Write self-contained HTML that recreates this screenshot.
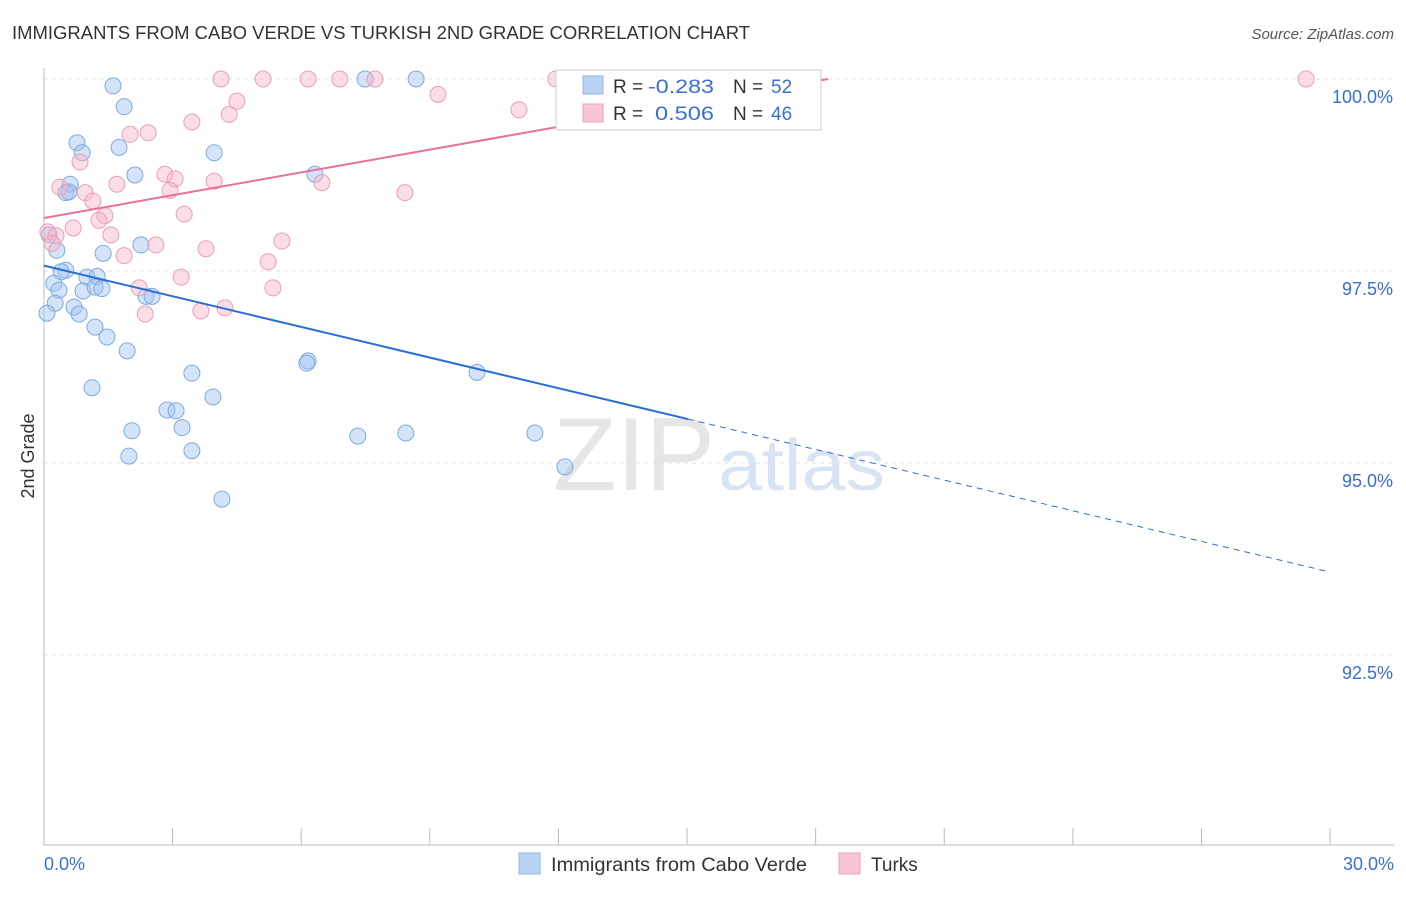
<!DOCTYPE html>
<html><head><meta charset="utf-8">
<style>
body{margin:0;background:#fff;font-family:"Liberation Sans",sans-serif;}
svg text{font-family:"Liberation Sans",sans-serif;}
</style></head>
<body>
<svg id="chart" width="1406" height="892">
<text x="12" y="39" font-size="18" fill="#333" textLength="738" lengthAdjust="spacingAndGlyphs">IMMIGRANTS FROM CABO VERDE VS TURKISH 2ND GRADE CORRELATION CHART</text>
<text x="1394" y="39" font-size="15" fill="#555" font-style="italic" text-anchor="end">Source: ZipAtlas.com</text>
<text x="553" y="490" font-size="104" fill="#e6e6e6" textLength="162" lengthAdjust="spacingAndGlyphs" font-family="Liberation Serif">ZIP</text>
<text x="718" y="490" font-size="72" fill="#d8e4f4" textLength="167" lengthAdjust="spacingAndGlyphs">atlas</text>
<text transform="translate(34,456) rotate(-90)" font-size="18" fill="#333" text-anchor="middle">2nd Grade</text>
<g id="grid"></g><g id="marks"></g>
<g>
<rect x="556" y="70" width="265" height="60" fill="#fff" stroke="#ccc"/>
<rect x="583" y="76" width="20" height="18" fill="#b9d3f4" stroke="#8fb4e6"/>
<rect x="583" y="104" width="20" height="18" fill="#f9c4d4" stroke="#eea0b8"/>
<text x="613" y="93" font-size="19" fill="#333">R =</text>
<text x="648" y="93" font-size="19" fill="#3a6fd1" textLength="66" lengthAdjust="spacingAndGlyphs">-0.283</text>
<text x="733" y="93" font-size="19" fill="#333">N =</text>
<text x="771" y="93" font-size="19" fill="#3a6fd1">52</text>
<text x="613" y="120" font-size="19" fill="#333">R =</text>
<text x="655" y="120" font-size="19" fill="#3a6fd1" textLength="59" lengthAdjust="spacingAndGlyphs">0.506</text>
<text x="733" y="120" font-size="19" fill="#333">N =</text>
<text x="771" y="120" font-size="19" fill="#3a6fd1">46</text>
</g>
<g>
<rect x="519" y="853" width="21" height="21" fill="#b9d3f4" stroke="#8fb4e6"/>
<text x="551" y="871" font-size="19" fill="#333" textLength="256" lengthAdjust="spacingAndGlyphs">Immigrants from Cabo Verde</text>
<rect x="839" y="853" width="21" height="21" fill="#f9c4d4" stroke="#eea0b8"/>
<text x="871" y="871" font-size="19" fill="#333">Turks</text>
</g>
</svg>
<script>
const yTicks=[100,97.5,95,92.5];
const yTickLabels=["100.0%","97.5%","95.0%","92.5%"];
const xTickLabels=["0.0%","30.0%"];
const blueX=[1.61,1.87,0.77,0.89,1.75,3.97,2.12,0.61,0.51,0.58,7.49,8.68,6.32,0.12,0.30,1.38,2.26,0.51,0.40,1.00,1.24,0.23,0.35,0.91,1.19,1.35,2.38,2.52,0.26,0.70,0.07,0.82,1.19,1.47,1.94,6.16,6.13,10.10,3.45,1.12,3.94,2.87,3.08,3.22,2.05,7.32,8.44,11.45,3.45,1.98,12.15,4.15];
const blueY=[99.91,99.64,99.17,99.04,99.11,99.04,98.75,98.63,98.52,98.53,100,100,98.76,97.97,97.77,97.73,97.84,97.51,97.49,97.42,97.43,97.34,97.25,97.24,97.29,97.27,97.17,97.17,97.08,97.03,96.95,96.94,96.77,96.64,96.46,96.33,96.30,96.18,96.17,95.98,95.86,95.69,95.68,95.46,95.42,95.35,95.39,95.39,95.16,95.09,94.95,94.53];
const pinkX=[4.13,5.11,6.16,6.90,7.72,11.94,12.18,29.44,9.19,4.50,11.08,4.32,3.45,2.01,2.43,0.84,2.82,3.06,3.97,6.48,1.70,0.37,0.96,2.94,8.42,1.14,1.42,1.28,3.27,0.68,0.09,0.28,1.56,0.19,2.61,5.55,3.78,1.87,5.23,3.20,5.34,2.22,3.66,4.22,2.36,12.27];
const pinkY=[100,100,100,100,100,100,100,100,99.80,99.71,99.60,99.54,99.44,99.28,99.30,98.92,98.76,98.70,98.67,98.65,98.63,98.59,98.52,98.55,98.52,98.41,98.22,98.16,98.24,98.06,98.01,97.96,97.97,97.86,97.84,97.89,97.79,97.70,97.62,97.42,97.28,97.28,96.98,97.02,96.94,100];
const blueTrend=[97.57,93.58]; // y at x=0 and x=30
const blueSolidEnd=15.02;
const pinkTrend=[98.19,100]; const pinkEnd=18.29;
const X=v=>44+v*42.87, Y=v=>79+(100-v)*76.8;
const NS="http://www.w3.org/2000/svg";
const grid=document.getElementById('grid'), marks=document.getElementById('marks');
function mk(tag,at,parent){const e=document.createElementNS(NS,tag);for(const k in at)e.setAttribute(k,at[k]);parent.appendChild(e);return e;}
yTicks.forEach((t,i)=>{
 const l=mk('line',{x1:44,x2:1394,y1:Y(t),y2:Y(t),stroke:'#e2e2e2','stroke-dasharray':'4,4'},grid);
 
 
 const tx=mk('text',{x:1393,y:Y(t)+24,'font-size':18,fill:'#3a6fd1','text-anchor':'end'},grid);tx.textContent=yTickLabels[i];
 
 
});
const ax=mk('line',{x1:44,x2:1394,y1:845,y2:845,stroke:'#bbb'},grid);


const ay=mk('line',{x1:44,x2:44,y1:68,y2:845,stroke:'#bbb'},grid);


for(let i=0;i<=10;i++){const tk=mk('line',{x1:X(i*3),x2:X(i*3),y1:828,y2:845,stroke:'#bbb'},grid);
 
 }
[[0,'start',44],[30,'end',1394]].forEach((d,i)=>{const t=mk('text',{x:d[2],y:870,'font-size':18,fill:'#3a6fd1','text-anchor':d[1]},grid);t.textContent=xTickLabels[i];
 
 });
blueX.forEach((x,i)=>{const c=mk('circle',{cx:X(x),cy:Y(blueY[i]),r:8,fill:'rgba(160,196,240,0.45)',stroke:'#7fa9e0','stroke-width':1},marks);
 
 });
pinkX.forEach((x,i)=>{const c=mk('circle',{cx:X(x),cy:Y(pinkY[i]),r:8,fill:'rgba(247,180,200,0.45)',stroke:'#eb9fb6','stroke-width':1},marks);
 
 });
const bAt=x=>blueTrend[0]+(blueTrend[1]-blueTrend[0])*x/30;
const b1=mk('line',{x1:X(0),y1:Y(bAt(0)),x2:X(blueSolidEnd),y2:Y(bAt(blueSolidEnd)),stroke:'#2b6fd6','stroke-width':2},marks);


const b2=mk('line',{x1:X(blueSolidEnd),y1:Y(bAt(blueSolidEnd)),x2:X(30),y2:Y(bAt(30)),stroke:'#2b6fd6','stroke-width':1,'stroke-dasharray':'6,5'},marks);


const p1=mk('line',{x1:X(0),y1:Y(pinkTrend[0]),x2:X(pinkEnd),y2:Y(pinkTrend[1]),stroke:'#e8709a','stroke-width':2},marks);


</script>
</body></html>
